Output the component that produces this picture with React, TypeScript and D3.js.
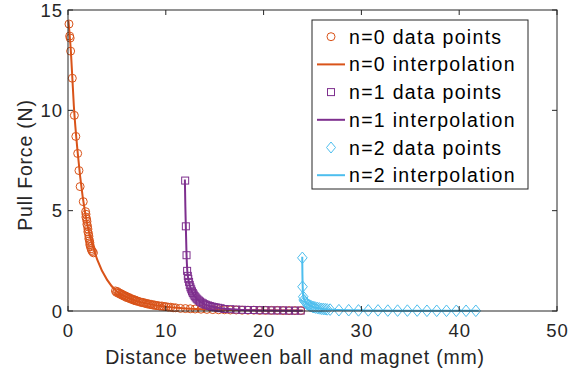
import React from "react";
import * as d3 from "d3";

const W = 575;
const H = 370;

const xTicks = [0, 10, 20, 30, 40, 50];
const yTicks = [0, 5, 10, 15];

// n=0 measured pull force (distance mm, force N)
const n0Points: [number, number][] = [
  [0.1, 14.3], [0.17, 13.7], [0.22, 13.6], [0.27, 12.95], [0.44, 11.6], [0.65, 9.75],
  [0.8, 8.7], [0.99, 7.85], [1.12, 7.0], [1.24, 6.2], [1.56, 5.45],
  [1.8, 4.95], [1.84, 4.82], [1.83, 4.68], [1.9, 4.58], [1.94, 4.46], [1.93, 4.32],
  [2.0, 4.22], [2.04, 4.08], [2.03, 3.95], [2.1, 3.85], [2.14, 3.72], [2.13, 3.6],
  [2.2, 3.5], [2.24, 3.4], [2.23, 3.3], [2.3, 3.2], [2.36, 3.1], [2.42, 3.02],
  [2.5, 2.96], [2.6, 2.9],
  [4.85, 1.0], [4.95, 0.93], [5.05, 0.97], [5.15, 0.88], [5.25, 0.9], [5.35, 0.83],
  [5.45, 0.86], [5.55, 0.78], [5.65, 0.8], [5.75, 0.73], [5.85, 0.76], [5.95, 0.69],
  [6.05, 0.71], [6.15, 0.65], [6.25, 0.67], [6.35, 0.61], [6.45, 0.62], [6.55, 0.57],
  [6.65, 0.58], [6.75, 0.53], [6.85, 0.55], [6.95, 0.5], [7.05, 0.51], [7.2, 0.47],
  [7.35, 0.46], [7.5, 0.42], [7.65, 0.43], [7.8, 0.39], [7.95, 0.39], [8.1, 0.35],
  [8.25, 0.36], [8.4, 0.32], [8.55, 0.33], [8.7, 0.29], [8.85, 0.3], [9.0, 0.27],
  [9.2, 0.27], [9.4, 0.24], [9.6, 0.25], [9.8, 0.22], [10.0, 0.22], [10.25, 0.19],
  [10.5, 0.19], [10.75, 0.16], [11.0, 0.16],
  [11.5, 0.13], [12.0, 0.12], [12.5, 0.11], [13.0, 0.1], [13.6, 0.09], [14.2, 0.08],
  [14.8, 0.07], [15.4, 0.06], [16.0, 0.06], [16.6, 0.05], [17.2, 0.05], [17.8, 0.04],
  [18.4, 0.04], [19.0, 0.04], [19.6, 0.03], [20.2, 0.03], [20.8, 0.03], [21.4, 0.03],
  [22.0, 0.02], [22.6, 0.02], [23.2, 0.02], [23.8, 0.02],
];

// n=0 fitted curve
const n0Curve: [number, number][] = [
  [0.05, 14.45], [0.3, 12.9], [0.6, 10.2], [1.0, 7.85], [1.5, 5.7], [2.0, 4.25],
  [2.5, 3.3], [3.0, 2.55], [4.0, 1.55], [5.0, 0.97], [6.0, 0.69], [7.0, 0.5],
  [8.0, 0.38], [10.0, 0.21], [12.0, 0.13], [15.0, 0.07], [20.0, 0.03], [24.0, 0.02],
];

// n=1 measured pull force
const n1Points: [number, number][] = [
  [11.98, 6.5], [12.05, 4.22], [12.12, 2.78], [12.18, 2.0], [12.25, 1.75], [12.3, 1.6],
  [12.38, 1.45], [12.45, 1.3], [12.52, 1.18], [12.6, 1.08], [12.68, 0.98], [12.76, 0.9],
  [12.85, 0.82], [12.95, 0.74], [13.05, 0.68], [13.15, 0.62], [13.25, 0.57], [13.38, 0.52],
  [13.5, 0.47], [13.65, 0.42], [13.8, 0.38], [13.95, 0.34], [14.1, 0.31], [14.3, 0.28],
  [14.5, 0.25], [14.7, 0.22], [14.9, 0.2], [15.1, 0.18], [15.35, 0.16], [15.6, 0.14],
  [16.0, 0.1], [16.6, 0.09], [17.2, 0.07], [17.8, 0.06], [18.4, 0.05], [19.0, 0.05],
  [19.6, 0.04], [20.2, 0.04], [20.8, 0.03], [21.4, 0.03], [22.0, 0.03], [22.6, 0.02],
  [23.2, 0.02], [23.8, 0.02],
];

// n=1 fitted curve
const n1Curve: [number, number][] = [
  [11.95, 6.55], [12.0, 5.2], [12.05, 4.2], [12.12, 2.8], [12.2, 2.0], [12.3, 1.6],
  [12.5, 1.2], [12.75, 0.9], [13.0, 0.7], [13.5, 0.47], [14.0, 0.33], [15.0, 0.18],
  [16.0, 0.11], [18.0, 0.05], [21.0, 0.02], [24.0, 0.01],
];

// n=2 measured pull force
const n2Points: [number, number][] = [
  [23.96, 2.65], [23.98, 1.21], [24.05, 0.71], [24.1, 0.55], [24.2, 0.48], [24.3, 0.42],
  [24.4, 0.37], [24.5, 0.33], [24.6, 0.3], [24.7, 0.27], [24.85, 0.24], [25.0, 0.21],
  [25.15, 0.19], [25.3, 0.17], [25.5, 0.15], [25.7, 0.13], [25.9, 0.11], [26.1, 0.1],
  [26.3, 0.09], [26.5, 0.08], [26.8, 0.07],
  [27.7, 0.04], [28.7, 0.04], [29.7, 0.03], [30.7, 0.03], [31.7, 0.03], [32.7, 0.02],
  [33.7, 0.02], [34.7, 0.02], [35.7, 0.02], [36.7, 0.01], [37.7, 0.01], [38.7, 0.01],
  [39.7, 0.01], [40.7, 0.01], [41.7, 0.01],
];

// n=2 fitted curve
const n2Curve: [number, number][] = [
  [23.95, 2.7], [23.97, 1.8], [24.0, 1.2], [24.05, 0.75], [24.2, 0.5], [24.5, 0.33],
  [25.0, 0.21], [26.0, 0.1], [27.0, 0.06], [30.0, 0.03], [35.0, 0.015], [42.0, 0.01],
];

const C0 = "#D95319";
const C1 = "#7E2F8E";
const C2 = "#4DBEEE";
const AX = "#262626";
const FONT = "'Liberation Sans', Arial, Helvetica, sans-serif";

const left = 68;
const right = 557;
const top = 10;
const bottom = 311;

const x = d3.scaleLinear().domain([0, 50]).range([left, right]);
const y = d3.scaleLinear().domain([0, 15]).range([bottom, top]);

const line = d3
  .line<[number, number]>()
  .x((d) => x(d[0]))
  .y((d) => y(d[1]))
  .curve(d3.curveMonotoneX);

const diamond = (cx: number, cy: number, hw: number, hh: number) =>
  `M${cx},${cy - hh}L${cx + hw},${cy}L${cx},${cy + hh}L${cx - hw},${cy}Z`;

function Circles({ data }: { data: [number, number][] }) {
  return (
    <g fill="none" stroke={C0} strokeWidth={1}>
      {data.map((d, i) => (
        <circle key={i} cx={x(d[0])} cy={y(d[1])} r={4} />
      ))}
    </g>
  );
}

function Squares({ data }: { data: [number, number][] }) {
  return (
    <g fill="none" stroke={C1} strokeWidth={1}>
      {data.map((d, i) => (
        <rect key={i} x={x(d[0]) - 3.5} y={y(d[1]) - 3.5} width={7} height={7} />
      ))}
    </g>
  );
}

function Diamonds({ data }: { data: [number, number][] }) {
  return (
    <g fill="none" stroke={C2} strokeWidth={1}>
      {data.map((d, i) => (
        <path key={i} d={diamond(x(d[0]), y(d[1]), 4.8, 5.8)} />
      ))}
    </g>
  );
}

const legendItems = [
  { label: "n=0 data points", kind: "circle", color: C0 },
  { label: "n=0 interpolation", kind: "line", color: C0 },
  { label: "n=1 data points", kind: "square", color: C1 },
  { label: "n=1 interpolation", kind: "line", color: C1 },
  { label: "n=2 data points", kind: "diamond", color: C2 },
  { label: "n=2 interpolation", kind: "line", color: C2 },
];

export default function App() {
  const tickLen = 5;
  const lgX = 312;
  const lgY = 20;
  const lgW = 216;
  const lgH = 169;
  return (
    <svg
      width={W}
      height={H}
      style={{ position: "absolute", left: 0, top: 0, background: "#fff" }}
      fontFamily={FONT}
    >
      <rect x={0} y={0} width={W} height={H} fill="#fff" />

      <Circles data={n0Points} />
      <path d={line(n0Curve) || ""} fill="none" stroke={C0} strokeWidth={2} />
      <Squares data={n1Points} />
      <path d={line(n1Curve) || ""} fill="none" stroke={C1} strokeWidth={2} />
      <Diamonds data={n2Points} />
      <path d={line(n2Curve) || ""} fill="none" stroke={C2} strokeWidth={2} />

      {/* axes box */}
      <rect x={left} y={top} width={right - left} height={bottom - top} fill="none" stroke={AX} strokeWidth={1} />
      {xTicks.map((t) => (
        <g key={"x" + t}>
          <line x1={x(t)} x2={x(t)} y1={bottom} y2={bottom - tickLen} stroke={AX} />
          <line x1={x(t)} x2={x(t)} y1={top} y2={top + tickLen} stroke={AX} />
          <text x={x(t) + 0.5} y={337} textAnchor="middle" fontSize={18.5} letterSpacing={1} fill={AX}>
            {t}
          </text>
        </g>
      ))}
      {yTicks.map((t) => (
        <g key={"y" + t}>
          <line x1={left} x2={left + tickLen} y1={y(t)} y2={y(t)} stroke={AX} />
          <line x1={right} x2={right - tickLen} y1={y(t)} y2={y(t)} stroke={AX} />
          <text x={63} y={y(t) + 6.5} textAnchor="end" fontSize={18.5} letterSpacing={1} fill={AX}>
            {t}
          </text>
        </g>
      ))}
      <text x={295} y={364} textAnchor="middle" fontSize={19.5} letterSpacing={0.8} fill={AX}>
        Distance between ball and magnet (mm)
      </text>
      <text
        transform={`translate(32,${165}) rotate(-90)`}
        textAnchor="middle"
        fontSize={19.5}
        letterSpacing={0.8}
        fill={AX}
      >
        Pull Force (N)
      </text>

      {/* legend */}
      <rect x={lgX} y={lgY} width={lgW} height={lgH} fill="#fff" stroke={AX} strokeWidth={1} />
      {legendItems.map((it, i) => {
        const cy = 36.7 + i * 27.7;
        const mx = 331;
        return (
          <g key={it.label}>
            {it.kind === "line" && (
              <line x1={317} x2={345} y1={cy} y2={cy} stroke={it.color} strokeWidth={2} />
            )}
            {it.kind === "circle" && <circle cx={mx} cy={cy} r={4} fill="none" stroke={it.color} />}
            {it.kind === "square" && (
              <rect x={mx - 3.5} y={cy - 3.5} width={7} height={7} fill="none" stroke={it.color} />
            )}
            {it.kind === "diamond" && <path d={diamond(mx, cy, 4.5, 5.5)} fill="none" stroke={it.color} />}
            <text x={349} y={cy + 7} fontSize={19.5} letterSpacing={1.3} fill="#000">
              {it.label}
            </text>
          </g>
        );
      })}
    </svg>
  );
}
